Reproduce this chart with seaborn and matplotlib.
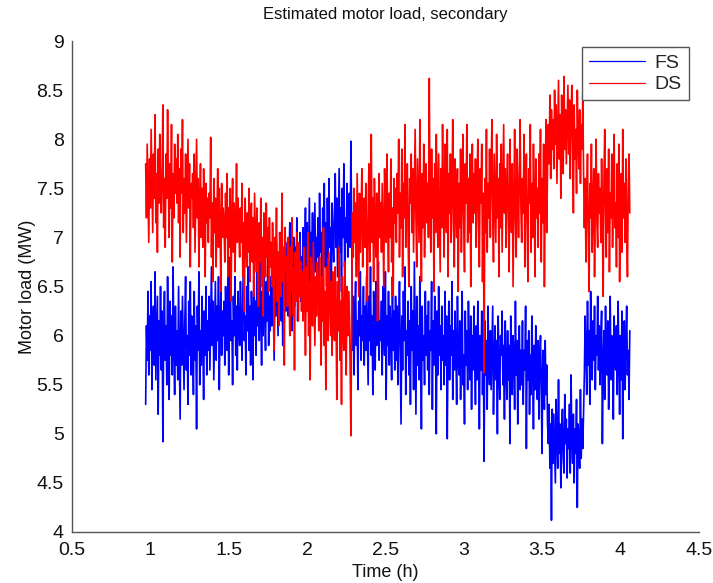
import numpy as np
import pandas as pd
import matplotlib
matplotlib.use("Agg")
import matplotlib.pyplot as plt
import seaborn as sns
from matplotlib.lines import Line2D

# ---- data ----
t_start = 0.97   # h, first sample
t_end = 4.06     # h, last sample (samples evenly spaced, 0.005 h)

fs_load = [
    5.30, 6.10, 5.75, 6.45, 5.60, 6.20, 5.85, 6.55, 5.45, 6.05, 6.30, 5.70, 6.65, 5.55, 5.95, 6.40, 5.20, 6.15, 5.80, 6.50,
    5.65, 6.25, 4.92, 6.00, 6.45, 5.75, 6.10, 5.50, 6.60, 5.90, 5.35, 6.35, 5.80, 6.20, 5.60, 6.70, 5.95, 5.40, 6.30, 5.70,
    6.05, 5.55, 6.50, 5.85, 5.15, 6.25, 5.70, 6.40, 5.95, 5.45, 6.15, 6.60, 5.65, 6.00, 5.30, 6.35, 5.80, 6.55, 5.60, 6.20,
    5.90, 5.40, 6.45, 5.75, 6.10, 5.05, 6.30, 5.85, 6.65, 5.50, 6.05, 5.70, 6.40, 5.95, 5.35, 6.25, 5.80, 6.50, 5.60, 6.15,
    5.85, 6.40, 5.65, 6.20, 6.70, 5.90, 6.35, 5.55, 6.05, 6.55, 5.75, 6.30, 5.95, 6.60, 5.45, 6.15, 6.45, 5.80, 6.25, 6.00,
    6.35, 5.70, 6.50, 6.05, 5.85, 6.65, 5.60, 6.25, 6.80, 5.95, 6.15, 5.50, 6.40, 6.00, 6.60, 5.80, 6.30, 5.65, 6.45, 6.10,
    5.90, 6.55, 6.10, 5.75, 6.40, 6.85, 5.95, 6.20, 5.60, 6.50, 6.05, 6.70, 5.85, 6.30, 5.70, 6.45, 6.15, 5.55, 6.60, 6.00,
    6.35, 5.80, 6.65, 6.10, 6.50, 5.95, 6.80, 6.20, 5.70, 6.45, 6.00, 6.75, 6.25, 5.85, 6.55, 6.15, 6.90, 5.90, 6.40, 6.05,
    6.60, 6.10, 6.85, 6.30, 5.75, 6.70, 6.20, 6.95, 6.45, 6.00, 6.75, 6.35, 7.05, 6.15, 6.55, 5.90, 6.80, 6.40, 7.10, 6.25,
    6.50, 6.95, 6.20, 6.75, 7.15, 6.40, 6.85, 6.05, 6.65, 7.00, 6.30, 6.90, 6.55, 7.20, 6.15, 6.70, 6.45, 7.05, 6.35, 6.80,
    6.60, 7.10, 6.40, 6.95, 7.30, 6.70, 7.15, 6.30, 6.85, 7.40, 6.55, 7.05, 6.75, 7.25, 6.45, 6.90, 7.35, 6.65, 7.00, 6.80,
    7.20, 6.60, 7.45, 6.85, 7.05, 6.40, 7.30, 6.95, 7.55, 6.70, 7.15, 6.50, 7.40, 6.80, 7.60, 6.90, 7.10, 6.55, 7.35, 7.00,
    6.75, 7.25, 7.65, 6.90, 7.40, 6.60, 7.15, 7.70, 6.85, 7.30, 6.45, 7.50, 7.00, 7.75, 6.70, 7.20, 6.95, 7.55, 6.80, 7.35,
    7.45, 6.90, 7.98, 7.10, 5.85, 6.40, 5.60, 6.25, 6.55, 5.90, 6.15, 5.45, 6.35, 6.00, 6.65, 5.75, 6.20, 5.95, 6.50, 5.70,
    6.30, 5.85, 6.60, 6.05, 5.50, 6.40, 5.95, 6.70, 5.80, 6.20, 5.40, 6.45, 6.10, 5.65, 6.55, 5.90, 6.25, 6.75, 5.75, 6.15,
    5.95, 6.35, 5.60, 6.50, 6.05, 5.80, 6.65, 5.35, 6.20, 5.90, 6.45, 5.70, 6.30, 6.00, 5.55, 6.60, 5.85, 6.25, 5.65, 6.40,
    5.75, 6.30, 5.50, 6.10, 6.55, 5.85, 5.10, 6.20, 5.65, 6.45, 5.95, 6.70, 5.40, 6.05, 5.80, 6.35, 5.60, 6.15, 5.30, 6.50,
    5.85, 6.25, 5.45, 6.75, 5.95, 5.20, 6.40, 5.70, 6.10, 5.55, 6.60, 5.90, 5.05, 6.30, 5.75, 6.00, 5.50, 6.45, 5.80, 6.20,
    5.65, 6.35, 5.40, 6.05, 5.85, 6.55, 5.25, 6.15, 5.70, 6.40, 5.95, 5.00, 6.25, 5.60, 6.50, 5.80, 6.10, 5.45, 6.30, 5.75,
    6.00, 5.50, 6.45, 5.70, 6.20, 4.95, 5.90, 6.35, 5.55, 6.10, 5.80, 6.55, 5.35, 6.05, 5.65, 6.25, 5.85, 5.30, 6.40, 5.75,
    5.60, 6.15, 5.35, 5.95, 6.45, 5.50, 5.80, 5.10, 6.25, 5.70, 6.05, 5.45, 6.35, 5.85, 5.55, 6.20, 5.25, 6.00, 5.65, 6.30,
    5.75, 5.30, 6.10, 5.55, 6.35, 5.85, 5.05, 6.00, 5.65, 6.25, 5.40, 5.90, 4.72, 6.15, 5.60, 5.95, 5.25, 6.30, 5.70, 5.50,
    6.05, 5.45, 5.85, 6.30, 5.20, 5.75, 6.10, 5.55, 5.95, 5.00, 6.20, 5.65, 5.35, 6.00, 5.80, 6.25, 5.50, 5.90, 5.15, 6.15,
    5.70, 5.35, 6.05, 5.55, 5.90, 4.90, 6.20, 5.65, 5.40, 6.00, 5.80, 5.25, 6.35, 5.60, 5.95, 5.10, 5.75, 6.10, 5.45, 5.85,
    5.50, 6.15, 5.30, 5.85, 5.65, 6.30, 4.85, 5.95, 5.55, 6.05, 5.20, 5.80, 5.40, 6.20, 5.70, 5.05, 5.90, 5.45, 6.10, 5.60,
    5.35, 5.95, 5.15, 5.75, 6.00, 5.45, 4.80, 5.85, 5.60, 5.25, 5.95, 5.40, 5.70, 5.10, 4.90, 5.30, 4.65, 5.10, 4.12, 5.25,
    4.70, 5.20, 4.85, 4.50, 5.35, 4.95, 4.65, 5.55, 4.80, 5.10, 4.45, 5.00, 5.25, 4.75, 4.60, 5.40, 4.90, 5.15, 4.55, 5.05,
    4.85, 5.30, 4.60, 5.60, 4.95, 4.70, 5.20, 4.50, 5.05, 4.80, 5.35, 4.25, 5.10, 4.90, 4.65, 5.45, 4.75, 5.15, 4.85, 5.25,
    5.60, 6.20, 5.85, 5.40, 6.35, 5.70, 6.05, 5.30, 6.45, 5.90, 5.55, 6.15, 5.75, 6.30, 5.45, 6.00, 5.80, 6.40, 5.65, 6.10,
    5.50, 5.95, 6.25, 4.90, 5.70, 6.05, 5.35, 6.30, 5.85, 5.60, 6.15, 5.25, 5.90, 6.40, 5.55, 6.00, 5.75, 5.15, 6.20, 5.80,
    5.65, 6.10, 5.40, 6.35, 5.85, 5.20, 6.00, 5.55, 6.25, 4.95, 5.75, 6.15, 5.45, 5.95, 6.30, 5.60, 5.85, 5.35, 6.05,
]

ds_load = [
    7.75, 7.20, 7.95, 7.45, 6.95, 7.80, 7.30, 8.10, 7.55, 7.05, 7.85, 7.40, 8.25, 7.15, 7.65, 6.85, 7.90, 7.35, 8.05, 7.50,
    7.25, 7.70, 8.35, 7.10, 7.60, 6.90, 7.85, 7.40, 8.30, 7.55, 7.00, 7.75, 7.30, 8.15, 6.75, 7.65, 7.20, 7.95, 7.45, 7.80,
    7.35, 8.05, 7.15, 7.70, 6.80, 7.90, 7.45, 8.20, 7.05, 7.60, 7.25, 7.85, 6.95, 7.50, 8.00, 7.30, 7.75, 6.70, 7.55, 7.40,
    7.65, 7.10, 7.85, 6.85, 7.45, 8.00, 7.20, 7.60, 6.70, 7.35, 7.75, 7.00, 7.50, 6.90, 7.70, 7.25, 6.60, 7.55, 7.15, 7.40,
    6.95, 7.45, 7.20, 8.02, 6.80, 7.35, 6.55, 7.60, 7.05, 7.40, 6.70, 7.25, 7.70, 6.90, 7.50, 7.10, 6.45, 7.55, 7.00, 7.30,
    7.15, 6.75, 7.45, 7.00, 7.65, 6.60, 7.30, 6.90, 7.50, 6.35, 7.20, 7.60, 6.85, 7.35, 6.65, 7.10, 7.75, 6.95, 7.40, 7.05,
    6.80, 7.30, 6.95, 7.55, 6.60, 7.15, 6.25, 7.40, 7.00, 6.70, 7.25, 6.85, 7.50, 6.55, 7.10, 7.35, 6.75, 7.20, 6.40, 7.45,
    7.05, 6.65, 7.30, 6.85, 6.30, 7.15, 6.75, 7.40, 6.50, 7.00, 6.20, 7.25, 6.90, 6.60, 7.35, 6.80, 7.10, 6.45, 7.20, 6.70,
    6.95, 6.50, 7.15, 6.70, 5.85, 7.00, 6.60, 7.30, 6.35, 6.85, 6.10, 7.05, 6.75, 6.40, 7.45, 6.55, 6.90, 5.70, 7.10, 6.65,
    6.80, 6.30, 7.00, 6.55, 6.00, 6.90, 6.45, 7.20, 6.20, 6.70, 5.65, 6.85, 6.35, 7.05, 6.60, 6.15, 6.95, 6.40, 6.75, 6.25,
    6.65, 6.15, 6.90, 6.40, 5.80, 6.70, 6.25, 7.05, 6.00, 6.55, 5.55, 6.80, 6.35, 6.10, 6.95, 6.45, 5.90, 6.60, 6.20, 6.75,
    6.50, 6.05, 6.80, 6.30, 5.70, 6.60, 6.15, 7.10, 5.90, 6.45, 5.45, 6.70, 6.25, 5.95, 6.85, 6.40, 6.00, 6.55, 5.80, 6.65,
    6.40, 5.95, 6.70, 6.20, 5.35, 6.55, 6.05, 6.90, 5.75, 6.35, 5.30, 6.60, 6.10, 5.85, 6.75, 6.30, 5.60, 6.50, 6.00, 6.45,
    6.20, 5.70, 4.98, 6.30, 7.25, 6.80, 7.50, 6.95, 7.35, 6.60, 7.65, 7.05, 6.40, 7.45, 6.85, 7.20, 7.70, 6.70, 7.10, 7.40,
    6.90, 7.55, 7.00, 6.35, 7.30, 7.75, 6.75, 7.15, 8.05, 6.95, 7.40, 6.55, 7.60, 7.10, 6.80, 7.45, 6.15, 7.25, 7.65, 7.00,
    7.35, 6.85, 7.55, 7.05, 6.50, 7.70, 7.20, 6.95, 7.85, 7.10, 6.65, 7.45, 7.00, 7.80, 6.75, 7.30, 6.40, 7.60, 7.15, 7.50,
    6.95, 7.65, 7.25, 8.00, 6.80, 7.45, 7.10, 7.90, 6.60, 7.55, 7.20, 8.15, 6.90, 7.40, 7.75, 7.00, 6.50, 7.60, 7.35, 7.85,
    7.05, 7.70, 6.85, 7.50, 8.10, 7.20, 6.70, 7.80, 7.40, 6.95, 8.20, 7.30, 6.55, 7.65, 7.10, 7.95, 6.80, 7.45, 7.75, 7.15,
    7.55, 7.00, 8.62, 7.35, 6.85, 7.90, 7.20, 7.60, 6.45, 7.75, 7.05, 8.05, 7.40, 6.90, 7.85, 7.25, 6.65, 7.70, 7.10, 8.15,
    7.30, 6.80, 7.95, 7.45, 7.05, 8.10, 6.60, 7.65, 7.25, 7.85, 6.95, 7.50, 8.20, 7.15, 6.70, 7.80, 7.35, 7.00, 7.70, 6.45,
    7.55, 7.10, 7.90, 6.85, 7.40, 8.05, 7.20, 6.65, 7.75, 7.35, 8.15, 6.95, 7.60, 7.05, 7.85, 6.50, 7.45, 7.95, 7.15, 7.65,
    7.25, 7.80, 6.90, 7.50, 8.00, 7.15, 6.70, 7.70, 7.35, 7.95, 6.55, 7.45, 5.62, 7.60, 7.05, 8.10, 6.85, 7.55, 7.20, 7.90,
    7.00, 7.65, 8.20, 7.30, 6.75, 7.85, 7.40, 6.95, 8.05, 7.20, 7.60, 6.60, 7.75, 7.10, 7.95, 6.85, 7.50, 8.15, 7.25, 7.70,
    6.90, 7.55, 7.85, 7.15, 6.65, 8.00, 7.45, 7.05, 7.75, 6.50, 7.35, 8.10, 7.20, 6.80, 7.90, 7.50, 7.00, 7.65, 8.20, 7.30,
    6.95, 7.60, 7.25, 8.05, 6.70, 7.45, 7.85, 7.10, 6.55, 7.70, 7.35, 8.15, 6.85, 7.55, 7.00, 7.95, 7.40, 6.60, 7.80, 7.20,
    7.50, 6.90, 7.85, 7.25, 8.10, 6.75, 7.60, 7.15, 7.95, 6.50, 7.45, 8.20, 7.05, 7.70, 8.15, 7.75, 8.45, 7.60, 8.30, 7.90,
    8.20, 7.70, 8.50, 7.95, 8.35, 7.55, 8.10, 8.60, 7.80, 8.25, 7.40, 8.45, 8.00, 7.65, 8.64, 7.90, 8.30, 7.75, 8.15, 8.55,
    7.85, 8.40, 7.60, 8.20, 8.55, 7.95, 7.25, 8.35, 7.80, 8.10, 7.45, 8.50, 8.00, 7.70, 8.30, 7.55, 8.15, 7.90, 8.45, 7.65,
    7.10, 7.60, 6.75, 7.45, 7.85, 7.00, 6.45, 7.55, 7.20, 7.95, 6.85, 7.35, 7.70, 6.60, 7.40, 8.00, 7.15, 6.90, 7.65, 7.25,
    7.50, 6.95, 7.80, 7.15, 6.40, 7.60, 8.10, 7.30, 6.80, 7.70, 7.05, 7.90, 6.65, 7.45, 7.20, 7.85, 6.90, 7.55, 8.05, 7.10,
    7.35, 6.70, 7.75, 7.00, 7.95, 6.55, 7.40, 7.65, 6.85, 8.10, 7.20, 7.55, 6.95, 7.80, 7.10, 6.60, 7.50, 7.85, 7.25,
]

series_names = ["FS", "DS"]
series_colors = {"FS": "#0000ff", "DS": "#ff0000"}
x_ticks = [0.5, 1, 1.5, 2, 2.5, 3, 3.5, 4, 4.5]
x_ticklabels = ["0.5", "1", "1.5", "2", "2.5", "3", "3.5", "4", "4.5"]
y_ticks = [4, 4.5, 5, 5.5, 6, 6.5, 7, 7.5, 8, 8.5, 9]
y_ticklabels = ["4", "4.5", "5", "5.5", "6", "6.5", "7", "7.5", "8", "8.5", "9"]

# ---- build long-form table ----
t_fs = np.linspace(t_start, t_end, len(fs_load))
t_ds = np.linspace(t_start, t_end, len(ds_load))
df = pd.concat([
    pd.DataFrame({"Time": t_fs, "Load": fs_load, "Series": "FS"}),
    pd.DataFrame({"Time": t_ds, "Load": ds_load, "Series": "DS"}),
], ignore_index=True)

sns.set_theme(style="white")
plt.rcParams["font.family"] = ["Liberation Sans", "DejaVu Sans"]

fig = plt.figure(figsize=(7.13, 5.83), dpi=100)
ax = fig.add_axes([0.101, 0.0875, 0.879, 0.842])

sns.lineplot(data=df, x="Time", y="Load", hue="Series", hue_order=series_names,
             palette=series_colors, estimator=None, sort=False, units="Series",
             linewidth=1.2, ax=ax, legend=False)

ax.set_xlim(0.5, 4.5)
ax.set_ylim(4, 9)
ax.set_xticks(x_ticks)
ax.set_xticklabels(x_ticklabels)
ax.set_yticks(y_ticks)
ax.set_yticklabels(y_ticklabels)

for side in ["top", "right"]:
    ax.spines[side].set_visible(False)
for side in ["left", "bottom"]:
    ax.spines[side].set_color("#555555")
    ax.spines[side].set_linewidth(1.0)

ax.tick_params(axis="both", direction="in", length=5, width=0.9, color="#555555",
               labelsize=14, labelcolor="#111111")
ax.tick_params(axis="y", pad=6)
ax.tick_params(axis="x", pad=7)

ax.set_xlabel("Time (h)", fontsize=13, color="#111111", labelpad=4)
ax.set_ylabel("Motor load (MW)", fontsize=13, color="#111111", labelpad=0)
ax.set_title("Estimated motor load, secondary", fontsize=12, color="#111111", pad=16)

handles = [Line2D([0], [0], color=series_colors[n], lw=0.9) for n in series_names]
leg = ax.legend(handles, series_names, loc="upper right", bbox_to_anchor=(0.984, 0.987),
                fontsize=14, frameon=True, fancybox=False, framealpha=1,
                edgecolor="#555555", handlelength=2.9, handletextpad=0.5,
                borderpad=0.35, labelspacing=0.2, borderaxespad=0)
leg.get_frame().set_linewidth(1.0)

fig.savefig("out.png", dpi=100)
